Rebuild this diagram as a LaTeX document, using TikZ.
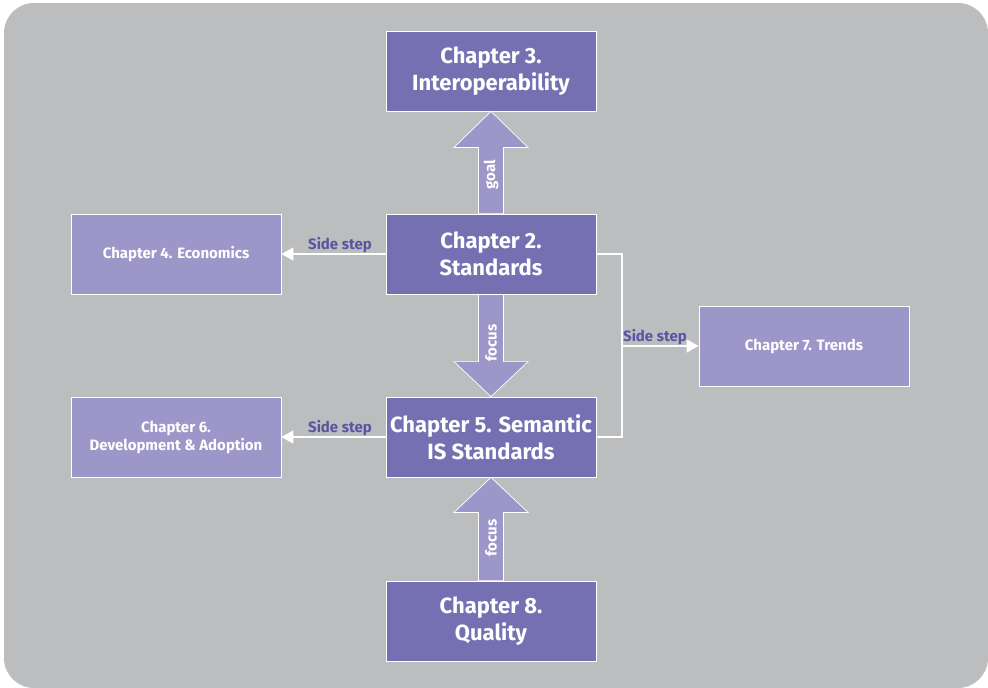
\documentclass[tikz,border=0pt]{standalone}
\usepackage{fontspec}
\setmainfont{Fira Sans}
\usetikzlibrary{calc,arrows.meta}
\definecolor{bggray}{HTML}{BCBDBF}
\definecolor{darkpurple}{HTML}{7570B2}
\definecolor{lightpurple}{HTML}{9D96C9}
\definecolor{labelblue}{HTML}{5A55A3}
\tikzset{
  mainbox/.style={draw=white, line width=0.8pt, fill=darkpurple, text=white,
    minimum width=210pt, minimum height=80pt, inner sep=0pt, align=center,
    font=\fontsize{22}{27}\selectfont\bfseries},
  sidebox/.style={draw=white, line width=0.8pt, fill=lightpurple, text=white,
    minimum width=210pt, minimum height=80pt, inner sep=0pt, align=center,
    font=\fontsize{15}{18}\selectfont\bfseries},
  blockarrow/.style={draw=white, line width=0.7pt, fill=lightpurple},
  arrowlabel/.style={text=white, rotate=90, inner sep=0pt,
    font=\fontsize{15}{15}\selectfont\bfseries},
  conn/.style={draw=white, line width=1.4pt},
  sidearrow/.style={conn, -{Triangle[length=12pt,width=13pt]}},
  steplabel/.style={text=labelblue, inner sep=0pt,
    font=\fontsize{15}{15}\selectfont\bfseries}
}
\begin{document}
\begin{tikzpicture}[x=1pt, y=-1pt]
  % page and rounded panel
  \fill[white] (0,0) rectangle (988,688);
  \useasboundingbox (0,0) rectangle (988,688);
  \fill[bggray, rounded corners=30pt] (4,3) rectangle (988,688);

  % chapter boxes
  \node[mainbox] (ch3) at (491,71)  {Chapter 3.\\Interoperability};
  \node[mainbox] (ch2) at (491,254) {Chapter 2.\\Standards};
  \node[mainbox] (ch5) at (491,437) {Chapter 5. Semantic\\IS Standards};
  \node[mainbox] (ch8) at (491,621) {Chapter 8.\\Quality};
  \node[sidebox] (ch4) at (176,254) {Chapter 4. Economics};
  \node[sidebox] (ch6) at (176,437) {Chapter 6.\\Development \& Adoption};
  \node[sidebox] (ch7) at (804,346) {Chapter 7. Trends};

  % block arrows between the main chapters
  \draw[blockarrow] ($(ch2.north)+(-12.5,0)$) -- ($(ch3.south)+(-12.5,36)$)
    -- ($(ch3.south)+(-37,36)$) -- (ch3.south) -- ($(ch3.south)+(37,36)$)
    -- ($(ch3.south)+(12.5,36)$) -- ($(ch2.north)+(12.5,0)$) -- cycle;
  \draw[blockarrow] ($(ch2.south)+(-12.5,0)$) -- ($(ch5.north)+(-12.5,-35)$)
    -- ($(ch5.north)+(-37,-35)$) -- (ch5.north) -- ($(ch5.north)+(37,-35)$)
    -- ($(ch5.north)+(12.5,-35)$) -- ($(ch2.south)+(12.5,0)$) -- cycle;
  \draw[blockarrow] ($(ch8.north)+(-12.5,0)$) -- ($(ch5.south)+(-12.5,35)$)
    -- ($(ch5.south)+(-37,35)$) -- (ch5.south) -- ($(ch5.south)+(37,35)$)
    -- ($(ch5.south)+(12.5,35)$) -- ($(ch8.north)+(12.5,0)$) -- cycle;
  \node[arrowlabel] (goal)   at (491,175) {goal};
  \node[arrowlabel] (focusA) at (491,343) {focus};
  \node[arrowlabel] (focusB) at (491,538) {focus};

  % side steps
  \draw[sidearrow] (ch2.west) -- (ch4.east);
  \draw[sidearrow] (ch5.west) -- (ch6.east);
  \coordinate (split) at (622,346);
  \draw[conn] (ch2.east) -| (split) |- (ch5.east);
  \draw[sidearrow] (split) -- (ch7.west);
  \node[steplabel, anchor=base] (s1) at (340,249) {Side step};
  \node[steplabel, anchor=base] (s2) at (340,432) {Side step};
  \node[steplabel, anchor=base] (s3) at (655,341) {Side step};
\end{tikzpicture}
\end{document}
